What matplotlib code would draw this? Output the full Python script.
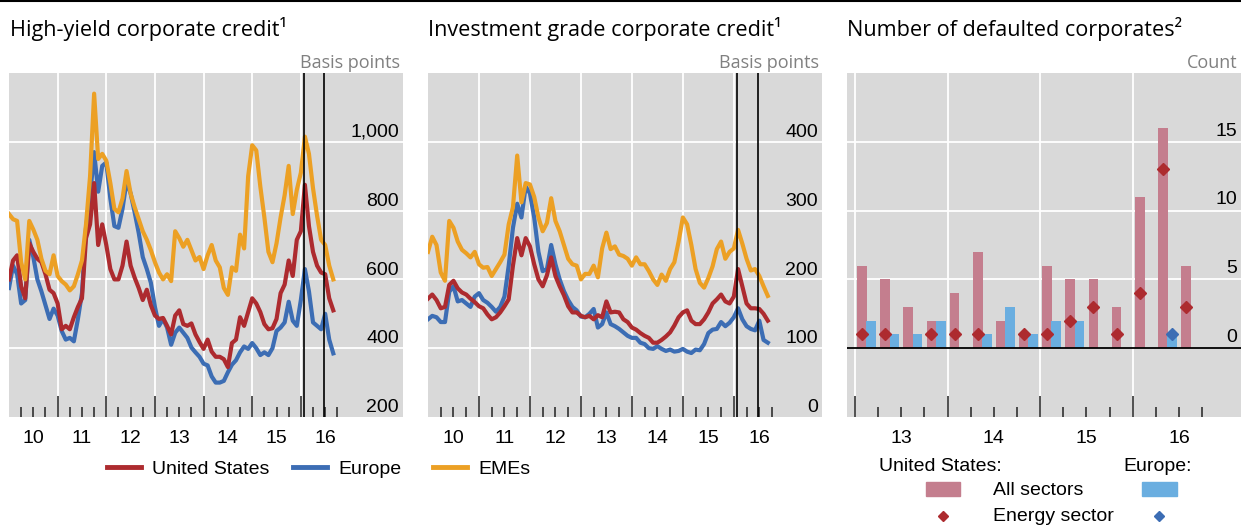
import matplotlib
matplotlib.use("Agg")
import matplotlib.pyplot as plt
from matplotlib.lines import Line2D
from matplotlib.patches import Rectangle
import numpy as np
import pandas as pd

# ---- data (month-start values, bp) ----
months = pd.date_range("2010-01-01", periods=81, freq="MS")

hy_us = [600, 655, 670, 580, 545, 705, 680, 660, 650, 615,
         570, 560, 530, 455, 465, 455, 490, 520, 545, 720,
         760, 880, 700, 760, 700, 630, 600, 600, 640, 710,
         640, 605, 575, 540, 570, 525, 495, 485, 488, 465,
         440, 495, 510, 470, 465, 472, 440, 418, 398, 425,
         390, 375, 375, 368, 345, 415, 425, 490, 465, 505,
         545, 530, 505, 470, 455, 458, 485, 560, 585, 655,
         610, 715, 740, 875, 755, 680, 640, 620, 615, 545,
         510]
hy_eu = [575, 640, 615, 530, 540, 715, 665, 600, 565, 525,
         485, 515, 495, 450, 425, 430, 420, 485, 560, 750,
         840, 970, 855, 930, 940, 835, 755, 750, 805, 885,
         850, 795, 735, 665, 630, 590, 520, 465, 485, 460,
         410, 445, 460, 445, 430, 402, 388, 375, 355, 350,
         318, 300, 300, 305, 330, 352, 365, 388, 405, 398,
         415, 400, 380, 388, 380, 400, 450, 460, 475, 535,
         480, 465, 540, 630, 565, 475, 465, 455, 500, 425,
         385]
hy_eme = [790, 775, 770, 650, 600, 770, 745, 715, 660, 625,
          615, 670, 610, 595, 585, 568, 580, 615, 655, 760,
          900, 1140, 950, 965, 945, 880, 805, 795, 835, 915,
          850, 810, 775, 740, 715, 685, 650, 620, 600, 615,
          595, 740, 720, 695, 715, 685, 655, 665, 630, 670,
          700, 655, 635, 575, 555, 635, 625, 730, 690, 900,
          990, 975, 870, 780, 680, 650, 705, 780, 845, 930,
          790, 860, 910, 1015, 965, 865, 785, 715, 700, 640,
          600]

ig_us = [172, 178, 170, 158, 160, 192, 198, 187, 181, 178,
         172, 167, 161, 158, 149, 142, 145, 152, 161, 171,
         220, 260, 235, 260, 248, 222, 200, 190, 206, 232,
         205, 190, 177, 161, 152, 152, 147, 145, 147, 142,
         148, 145, 168, 152, 153, 152, 142, 138, 130, 127,
         122, 118, 115, 108, 108, 112, 117, 123, 133, 145,
         152, 155, 140, 135, 135, 142, 152, 165, 171, 178,
         168, 165, 175, 215, 190, 165, 158, 158, 157, 150,
         140]
ig_eu = [142, 147, 145, 138, 138, 182, 190, 168, 170, 165,
         160, 175, 180, 170, 166, 160, 153, 160, 175, 220,
         275, 310, 290, 335, 325, 290, 240, 212, 215, 250,
         222, 200, 183, 170, 160, 155, 146, 145, 150, 157,
         130, 135, 152, 135, 132, 128, 123, 118, 115, 115,
         108, 106, 100, 99, 103, 99, 96, 98, 95, 96,
         99, 95, 93, 98, 97, 106, 122, 127, 128, 138,
         132, 137, 145, 158, 142, 132, 128, 126, 140, 112,
         108]
ig_eme = [240, 262, 250, 210, 198, 285, 275, 255, 243, 238,
          232, 240, 222, 217, 218, 205, 215, 225, 236, 280,
          305, 380, 312, 340, 338, 320, 290, 270, 282, 318,
          285, 270, 250, 230, 222, 220, 200, 208, 208, 220,
          203, 245, 268, 244, 248, 236, 234, 230, 220, 232,
          222, 222, 212, 200, 192, 207, 198, 215, 225, 255,
          290, 280, 250, 215, 195, 188, 202, 219, 244, 255,
          230, 240, 245, 272, 252, 230, 213, 215, 205, 190,
          176]

# events marked by vertical lines (decimal years)
event_lines = [2016.07, 2016.48]

# defaulted corporates, quarterly 2013Q1-2016Q3
quarters = pd.period_range("2013Q1", "2016Q3", freq="Q")
us_all = [6, 5, 3, 2, 4, 7, 2, 1, 6, 5, 5, 3, 11, 16, 6]
eu_all = [2, 1, 1, 2, 0, 1, 3, 1, 2, 2, 0, 0, 0, 1, 0]
us_energy = [1, 1, np.nan, 1, 1, 1, np.nan, 1, 1, 2, 3, 1, 4, 13, 3]
eu_energy = [np.nan] * 13 + [1, np.nan]

# ---- styling ----
RED = "#AD2B2F"
BLUE = "#3C6DB4"
ORANGE = "#ECA024"
PINK = "#C47E8E"
LBLUE = "#6AAEE0"
BG = "#D9D9D9"
GREY_TXT = "#808080"
TICK_FONT = "Liberation Sans"
TITLE_FONT = "Open Sans"
LW = 3.0

W, H = 1241, 525


def fx(px):
    return px / W


def fy(py):
    return 1 - py / H


def decimal_year(idx):
    return idx.year + (idx.month - 1) / 12.0


fig = plt.figure(figsize=(W / 100, H / 100), dpi=100)
fig.add_artist(Line2D([0, 1], [fy(1), fy(1)], color="black", lw=1.5))


def style_axis(ax, xlim, ylim, years, major, grid_y, label_y, lab_off=3.5):
    ax.set_facecolor(BG)
    for s in ax.spines.values():
        s.set_visible(False)
    ax.set_axisbelow(True)
    ax.set_xticks(major)
    minor = [y + q for y in years for q in (0.25, 0.5, 0.75)]
    ax.set_xticks(minor, minor=True)
    ax.set_yticks(grid_y)
    ax.set_xlim(*xlim)
    ax.set_ylim(*ylim)
    ax.tick_params(axis="x", which="major", direction="in", length=15,
                   width=1.1, color="#222222", labelbottom=False)
    ax.tick_params(axis="x", which="minor", direction="in", length=7.5,
                   width=1.1, color="#222222")
    ax.tick_params(axis="y", length=0, labelleft=False)
    ax.grid(True, which="major", color="white", lw=1.3)
    for v in label_y:
        ax.annotate(f"{v:,}", xy=(1, v), xycoords=("axes fraction", "data"),
                    xytext=(-3, lab_off), textcoords="offset points",
                    ha="right", va="baseline", fontsize=14,
                    family=TICK_FONT)
    for y in years:
        ax.annotate(str(y)[2:], xy=(y + 0.5, 0),
                    xycoords=("data", "axes fraction"),
                    xytext=(0, -19), textcoords="offset points",
                    ha="center", va="baseline", fontsize=14,
                    family=TICK_FONT)


t = decimal_year(months)
years = list(range(2010, 2017))

# panel 1: high-yield
ax1 = fig.add_axes([fx(9), fy(417), 394 / W, 344 / H])
style_axis(ax1, (2010, 2018.1), (200, 1200), years, years[1:],
           [400, 600, 800, 1000], [200, 400, 600, 800, 1000])
ax1.plot(t, hy_eu, color=BLUE, lw=LW)
ax1.plot(t, hy_us, color=RED, lw=LW)
ax1.plot(t, hy_eme, color=ORANGE, lw=LW)
for x in event_lines:
    ax1.axvline(x, color="black", lw=1.2)

# panel 2: investment grade
ax2 = fig.add_axes([fx(428), fy(417), 394 / W, 344 / H])
style_axis(ax2, (2010, 2017.73), (0, 500), years, years[1:],
           [100, 200, 300, 400], [0, 100, 200, 300, 400])
ax2.plot(t, ig_eu, color=BLUE, lw=LW)
ax2.plot(t, ig_us, color=RED, lw=LW)
ax2.plot(t, ig_eme, color=ORANGE, lw=LW)
for x in event_lines:
    ax2.axvline(x, color="black", lw=1.2)

# panel 3: defaults
ax3 = fig.add_axes([fx(847), fy(417), 394 / W, 344 / H])
qyears = list(range(2013, 2017))
style_axis(ax3, (2012.913, 2017.17), (-5, 20), qyears, qyears,
           [5, 10, 15], [0, 5, 10, 15], lab_off=4.5)
q_start = quarters.year + (quarters.quarter - 1) / 4.0
ax3.bar(q_start + 0.075, us_all, width=0.105, color=PINK, zorder=2)
ax3.bar(q_start + 0.175, eu_all, width=0.105, color=LBLUE, zorder=2)
ax3.axhline(0, color="black", lw=1.3, zorder=3)
ax3.plot(q_start + 0.075, us_energy, "D", color=RED, ms=6.5, ls="none", zorder=4)
ax3.plot(q_start + 0.175, eu_energy, "D", color=BLUE, ms=6.5, ls="none", zorder=4)

# titles and unit labels
titles = [("High-yield corporate credit\u00b9", 10),
          ("Investment grade corporate credit\u00b9", 428),
          ("Number of defaulted corporates\u00b2", 847)]
for txt, x in titles:
    fig.text(fx(x), fy(36), txt, fontsize=15.6, family=TITLE_FONT,
             ha="left", va="baseline", color="black")
for txt, x in [("Basis points", 400), ("Basis points", 819), ("Count", 1238)]:
    fig.text(fx(x), fy(68), txt, fontsize=13, family=TITLE_FONT,
             ha="right", va="baseline", color=GREY_TXT)

# legend for the spread panels
for lbl, col, x0 in [("United States", RED, 107), ("Europe", BLUE, 293),
                     ("EMEs", ORANGE, 433)]:
    fig.add_artist(Line2D([fx(x0), fx(x0 + 34)], [fy(467), fy(467)],
                          color=col, lw=3.5))
    fig.text(fx(x0 + 45), fy(474), lbl, fontsize=14, family=TICK_FONT,
             ha="left", va="baseline")

# legend for the defaults panel
fig.text(fx(879), fy(471), "United States:", fontsize=14, family=TICK_FONT,
         ha="left", va="baseline")
fig.text(fx(1123), fy(471), "Europe:", fontsize=14, family=TICK_FONT,
         ha="left", va="baseline")
fig.add_artist(Rectangle((fx(926), fy(496)), 34 / W, 14 / H, color=PINK,
                         transform=fig.transFigure))
fig.add_artist(Rectangle((fx(1142), fy(496)), 35 / W, 14 / H, color=LBLUE,
                         transform=fig.transFigure))
fig.text(fx(993), fy(495), "All sectors", fontsize=14, family=TICK_FONT,
         ha="left", va="baseline")
fig.add_artist(Line2D([fx(943)], [fy(516)], marker="D", color=RED, ms=5,
                      ls="none"))
fig.add_artist(Line2D([fx(1159)], [fy(516)], marker="D", color=BLUE, ms=5,
                      ls="none"))
fig.text(fx(993), fy(521), "Energy sector", fontsize=14, family=TICK_FONT,
         ha="left", va="baseline")

fig.savefig("out.png", dpi=100)
